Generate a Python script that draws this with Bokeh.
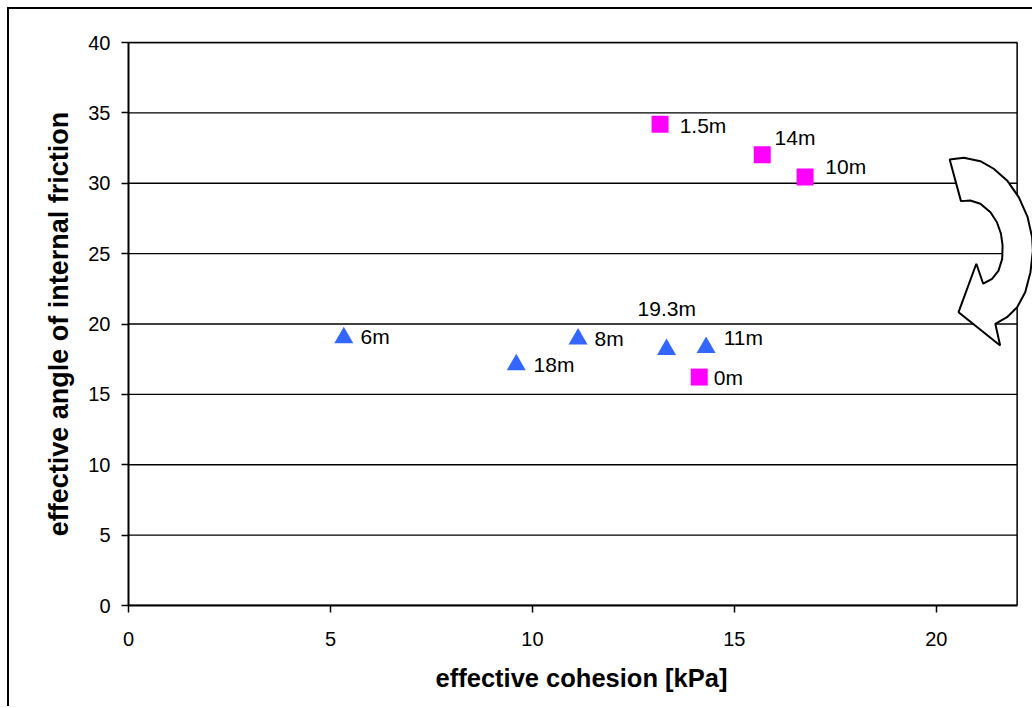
from bokeh.plotting import figure
from bokeh.models import (Range1d, FixedTicker, LinearAxis, ColumnDataSource,
                          PolyAnnotation, Span)
from bokeh.core.properties import value
from bokeh.embed import file_html
from bokeh.resources import INLINE

# ---- data ----
sq_labels = ["1.5m", "14m", "10m", "0m"]
sq_cohesion = [13.16, 15.69, 16.75, 14.13]
sq_friction = [34.20, 32.02, 30.44, 16.23]

tri_labels = ["6m", "18m", "8m", "19.3m", "11m"]
tri_cohesion = [5.33, 9.60, 11.13, 13.32, 14.30]
tri_friction = [19.03, 17.11, 18.93, 18.19, 18.33]

x_ticks = [0, 5, 10, 15, 20]
y_ticks = [0, 5, 10, 15, 20, 25, 30, 35, 40]
x_axis_max = 22

# ---- label placement (screen px) ----
sq_dx = [19.6, 12.3, 20.3, 14.6]
sq_dy = [1.0, -17.8, -10.8, 0.0]
tri_dx = [16.7, 17.3, 16.5, -29.0, 17.6]
tri_dy = [-1.0, -0.5, -0.7, -40.5, -10.3]

# ---- curved arrow outline (decoration) ----
arrow_x = [20.33, 20.68, 21.09, 21.42, 21.75, 22.04, 22.26, 22.37, 22.39, 22.33,
           22.20, 22.00, 21.75, 21.46, 21.58, 20.55, 20.99, 21.16, 21.38, 21.54,
           21.63, 21.64, 21.60, 21.50, 21.34, 21.09, 20.84, 20.61]
arrow_y = [31.69, 31.81, 31.57, 31.03, 30.20, 29.01, 27.59, 26.17, 25.22, 23.68,
           22.26, 21.19, 20.48, 20.01, 18.47, 20.84, 24.28, 22.86, 23.21, 23.80,
           24.63, 25.58, 26.41, 27.23, 27.94, 28.54, 28.77, 28.73]

FONT = "Liberation Sans"

p = figure(width=1025, height=699, x_range=Range1d(0, 22.43), y_range=Range1d(0, 40),
           output_backend="svg", toolbar_location=None,
           min_border_left=119, min_border_right=0, min_border_top=33,
           min_border_bottom=103)
p.styles = {"margin-left": "7px", "margin-top": "7px",
            "border-left": "2px solid black", "border-top": "2px solid black"}
p.background_fill_color = "white"
p.border_fill_color = "white"
p.outline_line_color = None

xa = p.below[0]
ya = p.left[0]
xa.ticker = FixedTicker(ticks=x_ticks)
ya.ticker = FixedTicker(ticks=y_ticks)
xa.bounds = (0, x_axis_max)
for ax in (xa, ya):
    ax.axis_line_color = "black"
    ax.axis_line_width = 2
    ax.major_tick_line_color = "black"
    ax.major_tick_line_width = 1.5
    ax.major_tick_out = 7
    ax.major_tick_in = 0
    ax.minor_tick_out = 0
    ax.minor_tick_in = 0
    ax.major_label_text_font = FONT
    ax.major_label_text_font_size = "20px"
    ax.major_label_text_color = "black"
    ax.axis_label_text_font = FONT
    ax.axis_label_text_font_style = "bold"
    ax.axis_label_text_color = "black"
xa.axis_label_text_font_size = "25.5px"
ya.axis_label_text_font_size = "27px"
xa.axis_label = "effective cohesion [kPa]"
ya.axis_label = "effective angle of internal friction"
xa.major_label_standoff = 19
ya.major_label_standoff = 11
xa.axis_label_standoff = 15
ya.axis_label_standoff = 11

# top border line
top = LinearAxis(ticker=FixedTicker(ticks=[]), bounds=(0, x_axis_max))
top.axis_line_color = "black"
top.axis_line_width = 1.5
top.major_tick_out = 0
top.major_tick_in = 0
top.minor_tick_out = 0
top.minor_tick_in = 0
p.add_layout(top, "above")

# right border line of the plot area
p.add_layout(Span(location=x_axis_max, dimension="height", line_color="black",
                  line_width=1.5, level="underlay"))

# horizontal gridlines limited to the plot area
p.xgrid.visible = False
p.ygrid.visible = False
p.segment(x0=0, y0=y_ticks, x1=x_axis_max, y1=y_ticks, line_color="black",
          line_width=1.4, level="underlay")

sq_src = ColumnDataSource(dict(x=sq_cohesion, y=sq_friction, t=sq_labels, dx=sq_dx, dy=sq_dy))
tri_src = ColumnDataSource(dict(x=tri_cohesion, y=tri_friction, t=tri_labels, dx=tri_dx, dy=tri_dy))

p.scatter("x", "y", source=tri_src, marker="triangle", size=19,
          fill_color="#3366FF", line_color=None)
p.scatter("x", "y", source=sq_src, marker="square", size=17,
          fill_color="#FF00FF", line_color=None)

for src in (sq_src, tri_src):
    p.text("x", "y", text="t", source=src, x_offset="dx", y_offset="dy",
           text_font=value(FONT), text_font_size="21px", text_color="black",
           text_baseline="alphabetic", text_align="left")

arrow = PolyAnnotation(xs=arrow_x, ys=arrow_y, fill_color="white", fill_alpha=1,
                       line_color="black", line_alpha=1, line_width=2)
p.add_layout(arrow)

open("out.html", "w").write(file_html(p, INLINE))
